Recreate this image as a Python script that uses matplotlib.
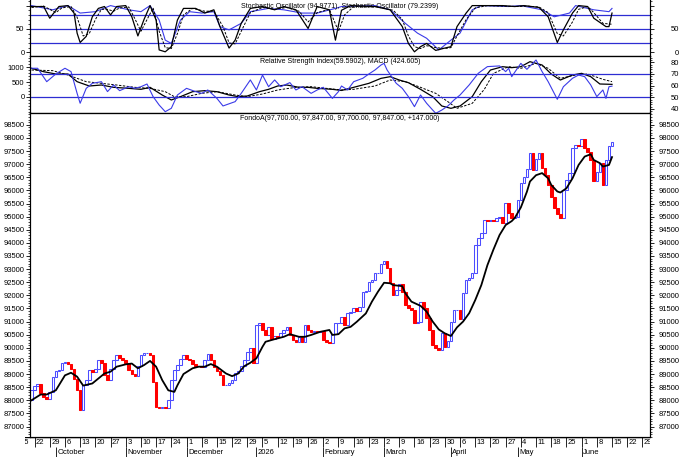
import matplotlib
matplotlib.use("Agg")
import matplotlib.pyplot as plt
from matplotlib.ticker import MultipleLocator
import numpy as np
import pandas as pd

plt.rcParams['font.family'] = ['Liberation Sans', 'DejaVu Sans']

# x = trading-day index, 0 = Fri 19 Sep 2025
first_open = 88000
closes = [
    # 0-16
    88400, 88540, 88610, 88260, 88130, 88030, 88320, 88870, 89110, 89150,
    89430, 89470, 89400, 89210, 88830, 88380, 87620,
    # 17-30
    88570, 88760, 89150, 89080, 89210, 89530, 89430, 88960, 88770, 89210,
    89530, 89720, 89630, 89530,
    # 31-45
    89430, 89150, 89000, 88920, 89300, 89720, 89810, 89820, 89740, 88700,
    87750, 87720, 87750, 87720, 88000,
    # 46-56
    88760, 89150, 89340, 89590, 89720, 89590, 89530, 89400, 89300, 89320,
    89250,
    # 57-69
    89530, 89780, 89530, 89270, 89100, 88960, 88570, 88600, 88640, 88760,
    89040, 89120, 89300,
    # 70-123
    89535, 89850, 89980, 89430, 90870, 90930, 90680, 90490, 90780, 90320,
    90450, 90420, 90550, 90680, 90780, 90490, 90300, 90230, 90420, 90230,
    90870, 90680, 90610, 90650, 90610, 90650, 90300, 90230, 90180, 90520,
    90930, 90960, 91190, 90870, 91315, 91380, 91505, 91420, 91570, 92140,
    92180, 92520, 92590, 92840, 92860, 93200, 93320, 93030, 92460, 92010,
    92200, 92430, 92140, 91630,
    # 124-149
    91500, 91440, 90930, 91000, 91760, 91500, 91125, 90680, 90110, 89980,
    89930, 90550, 90040, 90250, 91000, 91440, 91460, 91090, 92080, 92585,
    92650, 92840, 93920, 94175, 94365, 94870,
    # 150-191
    94830, 94875, 94850, 94940, 95000, 94770, 95510, 95130, 94935, 95000,
    95640, 96270, 96500, 96810, 97440, 96780, 97190, 97420, 96850, 96590,
    96210, 95760, 95320, 95100, 94940, 96020, 96400, 96660, 97610, 97740,
    97700, 97950, 97610, 97480, 97160, 96340, 96720, 97060, 96210, 97160,
    97700, 97847,
]

price_ma = [
    (0, 88000), (3, 88220), (5, 88220), (8, 88380), (10, 88760), (11, 88950),
    (13, 89050), (15, 88900), (17, 88560), (20, 88640), (22, 88830),
    (24, 89020), (26, 89090), (28, 89280), (31, 89370), (33, 89400),
    (35, 89220), (37, 89340), (39, 89500), (41, 89280), (43, 88770),
    (45, 88380), (47, 88320), (48, 88570), (50, 89000), (53, 89220),
    (55, 89280), (57, 89280), (59, 89380), (61, 89280), (64, 89020),
    (66, 88920), (68, 89020), (70, 89300), (72, 89430), (74, 89600),
    (76, 90040), (77, 90230), (80, 90330), (83, 90420), (85, 90520),
    (88, 90420), (90, 90420), (92, 90490), (95, 90610), (98, 90680),
    (99, 90490), (101, 90520), (103, 90740), (105, 90800), (107, 90990),
    (110, 91310), (112, 91760), (114, 92140), (116, 92480), (118, 92460),
    (119, 92390), (122, 92350), (123, 92080), (125, 91760), (128, 91600),
    (130, 91380), (132, 91000), (134, 90700), (136, 90550), (138, 90450),
    (140, 90780), (142, 91000), (144, 91320), (146, 91820), (148, 92390),
    (150, 93150), (152, 93750), (154, 94300), (156, 94680), (158, 94830),
    (159, 94950), (161, 95350), (163, 95950), (164, 96340), (166, 96580),
    (168, 96660), (170, 96460), (171, 96210), (173, 95960), (174, 95920),
    (176, 96080), (178, 96460), (180, 96970), (182, 97290), (184, 97380),
    (185, 97160), (187, 97040), (188, 96910), (190, 96970), (191, 97270),
]

stoch_k = [
    (0, 98), (4, 98), (6, 73), (9, 98), (12, 100), (14, 84), (15, 41), (16, 21),
    (18, 34), (20, 76), (22, 94), (24, 98), (26, 80), (28, 98), (31, 100),
    (33, 76), (35, 35), (37, 70), (39, 100), (41, 69), (42, 5), (44, 1),
    (46, 12), (48, 69), (50, 94), (54, 94), (57, 84), (60, 91), (62, 55),
    (65, 9), (67, 26), (69, 62), (72, 94), (76, 98), (80, 91), (83, 98),
    (87, 91), (91, 51), (94, 98), (98, 91), (100, 26), (102, 90), (105, 100),
    (113, 98), (118, 91), (122, 55), (124, 19), (126, 1), (128, 12), (130, 19),
    (133, 4), (136, 9), (138, 12), (140, 55), (143, 84), (145, 100), (149, 100),
    (155, 100), (159, 98), (162, 100), (167, 96), (170, 76), (173, 21),
    (175, 48), (178, 84), (180, 100), (183, 98), (185, 73), (189, 55),
    (190, 55), (191, 84),
]
stoch_d = [
    (0, 96), (4, 99), (8, 85), (10, 95), (13, 98), (15, 75), (17, 35), (19, 40),
    (21, 70), (23, 92), (25, 92), (27, 88), (29, 95), (32, 97), (34, 72),
    (36, 45), (38, 70), (40, 95), (42, 45), (44, 10), (46, 8), (48, 40),
    (50, 80), (53, 94), (57, 88), (60, 88), (63, 55), (65, 20), (67, 18),
    (69, 45), (72, 85), (76, 96), (80, 92), (84, 96), (88, 88), (91, 65),
    (94, 85), (98, 92), (101, 45), (103, 80), (106, 98), (113, 98), (119, 90),
    (122, 70), (124, 35), (126, 12), (128, 8), (130, 14), (133, 10), (136, 8),
    (138, 10), (140, 35), (143, 70), (146, 95), (150, 100), (155, 99),
    (160, 98), (163, 99), (167, 97), (170, 85), (173, 40), (175, 35),
    (178, 65), (180, 92), (183, 98), (185, 85), (188, 62), (191, 60),
]
stoch_slow = [
    (0, 100), (7, 91), (12, 100), (16, 84), (21, 87), (26, 100), (32, 91),
    (36, 87), (39, 100), (42, 69), (44, 26), (46, 19), (49, 69), (52, 87),
    (56, 84), (60, 87), (62, 55), (65, 48), (69, 62), (72, 87), (78, 94),
    (83, 91), (89, 84), (94, 84), (100, 94), (102, 98), (113, 100), (118, 91),
    (123, 62), (127, 41), (130, 30), (134, 5), (138, 26), (141, 41), (145, 91),
    (148, 100), (157, 98), (161, 100), (168, 91), (172, 76), (177, 84),
    (179, 100), (185, 91), (190, 87), (191, 94),
]

macd = [
    (0, 963), (4, 850), (8, 773), (12, 773), (15, 515), (19, 370), (23, 403),
    (27, 325), (32, 291), (36, 258), (39, 325), (43, 67), (46, -100), (49, 11),
    (53, 179), (57, 213), (61, 179), (65, 67), (68, 11), (71, 34), (75, 179),
    (78, 258), (81, 370), (84, 403), (88, 325), (91, 325), (94, 291),
    (99, 258), (102, 220), (106, 325), (111, 459), (115, 627), (118, 683),
    (121, 571), (124, 482), (128, 258), (132, 11), (135, -302), (138, -381),
    (141, -302), (145, 11), (148, 515), (151, 907), (155, 1019), (158, 986),
    (161, 1019), (164, 1187), (168, 1075), (171, 773), (174, 571), (178, 739),
    (181, 795), (184, 683), (187, 437), (191, 425),
]
macd_signal = [
    (0, 907), (7, 885), (12, 739), (18, 515), (23, 459), (28, 403), (34, 325),
    (39, 291), (44, 179), (47, 11), (51, 11), (56, 123), (61, 179), (67, 67),
    (71, 11), (76, 101), (81, 235), (87, 325), (92, 347), (97, 291),
    (102, 235), (106, 258), (113, 370), (118, 571), (123, 515), (128, 325),
    (133, 123), (137, -157), (140, -381), (145, -213), (149, 258), (152, 795),
    (157, 1019), (161, 963), (166, 1131), (170, 963), (174, 627), (179, 739),
    (183, 773), (188, 594), (191, 515),
]
rsi = [
    (0, 74.9), (2, 74.9), (5, 63.4), (8, 70), (11, 74.9), (13, 72), (15, 53.4),
    (16, 44.9), (18, 57.7), (20, 62), (23, 63.4), (25, 54.9), (27, 60.6),
    (29, 55.7), (32, 59.1), (34, 57.7), (36, 59.1), (38, 61.4), (40, 50.6),
    (42, 43.4), (44, 37.7), (46, 40.6), (48, 52), (51, 57.7), (54, 54.9),
    (56, 53.4), (58, 56.3), (61, 49.1), (63, 42.6), (67, 46.3), (69, 53.4),
    (72, 64.9), (74, 56.3), (76, 69.1), (78, 59.1), (80, 64.9), (82, 59.1),
    (85, 62.6), (87, 56.3), (89, 59.1), (92, 53.4), (94, 56.3), (96, 58.6),
    (99, 49.1), (101, 54.9), (102, 59.7), (104, 56.3), (106, 63.4), (109, 66.3),
    (111, 70), (113, 73.4), (115, 77.7), (116, 79.1), (117, 73.4), (120, 62),
    (122, 57.7), (124, 50.6), (126, 42), (128, 52), (130, 44.9), (132, 39.1),
    (133, 36.3), (135, 39.1), (137, 42.6), (139, 47.7), (141, 52), (144, 60.6),
    (147, 70.6), (150, 76.3), (154, 76.9), (156, 72), (157, 74.9), (158, 67.7),
    (161, 79.1), (163, 74), (166, 82), (168, 72), (170, 63.4), (173, 48.3),
    (175, 59.1), (178, 66.3), (180, 69.1), (182, 67.7), (184, 60.6),
    (186, 50.6), (188, 56.3), (189, 49.1), (190, 59.1), (191, 59.6),
]

month_labels = ['October', 'November', 'December', '2026', 'February',
                'March', 'April', 'May', 'June']

stoch_title = 'Stochastic Oscillator (94.9771), Stochastic Oscillator (79.2399)'
mid_title = 'Relative Strength Index(59.5902), MACD (424.605)'
price_title = 'FondoA(97,700.00, 97,847.00, 97,700.00, 97,847.00, +147.000)'

BLUE = '#4c4cff'
LINE_BLUE = '#3a3ae8'
HL_BLUE = '#2d2dd2'
RED = '#ff0000'
FS = 5.5

W, H = 680, 457
fig = plt.figure(figsize=(6.8, 4.57), dpi=100)


def px_axes(x0, y0, x1, y1):
    return fig.add_axes([x0 / W, 1 - y1 / H, (x1 - x0) / W, (y1 - y0) / H])


ax_st = px_axes(30, 0, 650, 56)
ax_md = px_axes(30, 56, 650, 112.5)
ax_pr = px_axes(30, 112.5, 650, 437)
ax_dt = px_axes(25, 437, 650, 457)

XL = (-0.5, 203.5)


def unzip(pairs):
    a = np.array(pairs, dtype=float)
    return a[:, 0], a[:, 1]


def style(ax):
    ax.set_xlim(*XL)
    ax.set_xticks([])
    for s in ax.spines.values():
        s.set_linewidth(0.8)
    ax.tick_params(axis='y', which='major', direction='out', length=3,
                   width=0.6, labelsize=FS, pad=1)
    ax.tick_params(axis='y', which='minor', direction='out', length=1.5,
                   width=0.5)


def right_axis(ax, ticks, labels, minor):
    r = ax.twinx()
    r.set_xlim(*XL)
    r.set_ylim(ax.get_ylim())
    for s in r.spines.values():
        s.set_linewidth(0.8)
    r.set_yticks(ticks, labels)
    r.yaxis.set_minor_locator(MultipleLocator(minor))
    r.tick_params(axis='y', which='major', direction='out', length=3,
                  width=0.6, labelsize=FS, pad=18)
    r.tick_params(axis='y', which='minor', direction='out', length=1.5,
                  width=0.5)
    for t in r.yaxis.get_major_ticks():
        t.label2.set_horizontalalignment('right')
    return r


# ---- stochastic pane ----
style(ax_st)
ax_st.spines['top'].set_visible(False)
ax_st.set_ylim(-8, 112)
for lv in (20, 50, 80):
    ax_st.axhline(lv, color=HL_BLUE, lw=0.9, zorder=1)
x, y = unzip(stoch_slow)
ax_st.plot(x, y, color=LINE_BLUE, lw=0.8, zorder=3)
x, y = unzip(stoch_d)
ax_st.plot(x, y, color='black', lw=0.7, ls=(0, (2.5, 1.5)), zorder=3)
x, y = unzip(stoch_k)
ax_st.plot(x, y, color='black', lw=0.9, zorder=4)
ax_st.set_yticks([0, 50, 100], ['0', '50', ''])
ax_st.yaxis.set_minor_locator(MultipleLocator(10))
r_st = right_axis(ax_st, [0, 50, 100], ['0', '50', ''], 10)
r_st.spines['top'].set_visible(False)
ax_st.text(0.5, 0.89, stoch_title, transform=ax_st.transAxes, ha='center',
           va='center', fontsize=5)

# ---- RSI / MACD pane ----
style(ax_md)
ax_md.set_ylim(-521, 1378)
x, y = unzip(macd_signal)
ax_md.plot(x, y, color='black', lw=0.7, ls=(0, (2.5, 1.5)), zorder=3)
x, y = unzip(macd)
ax_md.plot(x, y, color='black', lw=0.9, zorder=4)
ax_md.set_yticks([0, 500, 1000])
ax_md.yaxis.set_minor_locator(MultipleLocator(100))
ax_rsi = ax_md.twinx()
ax_rsi.set_xlim(*XL)
ax_rsi.set_ylim(37, 85.4)
for s in ax_rsi.spines.values():
    s.set_linewidth(0.8)
for lv in (50, 70):
    ax_rsi.axhline(lv, color=HL_BLUE, lw=0.9, zorder=1)
x, y = unzip(rsi)
ax_rsi.plot(x, y, color=LINE_BLUE, lw=0.8, zorder=2)
ax_rsi.set_yticks([40, 50, 60, 70, 80])
ax_rsi.yaxis.set_minor_locator(MultipleLocator(2))
ax_rsi.tick_params(axis='y', which='major', direction='out', length=3,
                   width=0.6, labelsize=FS, pad=18)
ax_rsi.tick_params(axis='y', which='minor', direction='out', length=1.5,
                   width=0.5)
for t in ax_rsi.yaxis.get_major_ticks():
    t.label2.set_horizontalalignment('right')
ax_md.text(0.5, 0.894, mid_title, transform=ax_md.transAxes, ha='center',
           va='center', fontsize=5, zorder=5)

# ---- price pane ----
style(ax_pr)
ax_pr.set_ylim(86600, 98970)
c = np.array(closes, dtype=float)
o = np.concatenate([[first_open], c[:-1]])
idx = np.arange(len(c))
up = c >= o
ax_pr.bar(idx[up], c[up] - o[up], bottom=o[up], width=0.85,
          facecolor='white', edgecolor=BLUE, linewidth=0.75, zorder=2)
ax_pr.bar(idx[~up], c[~up] - o[~up], bottom=o[~up], width=0.85,
          facecolor=RED, edgecolor=RED, linewidth=0.75, zorder=3)
x, y = unzip(price_ma)
ax_pr.plot(x, y, color='black', lw=1.3, zorder=4)
price_ticks = np.arange(87000, 98501, 500)
ax_pr.set_yticks(price_ticks)
ax_pr.yaxis.set_minor_locator(MultipleLocator(100))
right_axis(ax_pr, price_ticks, [str(v) for v in price_ticks], 100)
ax_pr.text(0.5, 0.983, price_title, transform=ax_pr.transAxes, ha='center',
           va='center', fontsize=5)

# ---- date strip ----
cal = pd.bdate_range('2025-09-15', '2026-06-30')
pos = np.arange(len(cal)) - 4
ax_dt.set_xlim(XL[0] - 5 / 3.04, XL[1])
ax_dt.set_ylim(0, 20)
ax_dt.axis('off')
ax_dt.axhline(20, color='black', lw=1.0)
for p, d in zip(pos, cal):
    if d.weekday() == 0:
        ax_dt.vlines(p, 10, 20, color='black', lw=0.6)
        ax_dt.text(p + 0.5, 14.6, str(d.day), fontsize=FS, ha='left',
                   va='center', clip_on=True)
starts = [p for k, (p, d) in enumerate(zip(pos, cal))
          if p >= 0 and d.month != cal[k - 1].month]
for p, lab in zip(starts, month_labels):
    ax_dt.vlines(p, 0, 10, color='black', lw=0.6)
    ax_dt.text(p + 0.5, 4.6, lab, fontsize=FS, ha='left', va='center',
               clip_on=True)

fig.savefig('out.png', dpi=100)
